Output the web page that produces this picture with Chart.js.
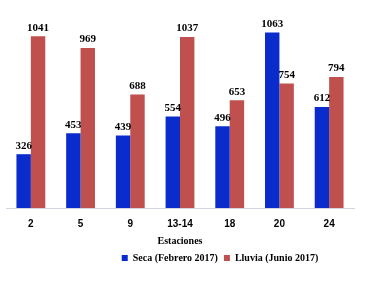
<!DOCTYPE html>
<html>
<head>
<meta charset="utf-8">
<script src="https://cdn.jsdelivr.net/npm/chart.js@4/dist/chart.umd.min.js"></script>
<style>
  html, body { margin: 0; padding: 0; background: #fff; }
  #wrap { width: 365px; height: 286px; }
</style>
</head>
<body>
<div id="wrap"><canvas id="chart"></canvas></div>
<script>
// estaciones y valores
const estaciones = ['2', '5', '9', '13-14', '18', '20', '24'];
const seca = [326, 453, 439, 554, 496, 1063, 612];
const lluvia = [1041, 969, 688, 1037, 653, 754, 794];

// etiquetas encima de cada barra
const etiquetasBarras = {
    id: 'etiquetasBarras',
    afterDatasetsDraw(chart) {
        const ctx = chart.ctx;
        ctx.save();
        ctx.font = 'bold 11px "Liberation Serif"';
        ctx.fillStyle = '#000';
        ctx.textAlign = 'center';
        ctx.textBaseline = 'bottom';
        chart.data.datasets.forEach((ds, i) => {
            chart.getDatasetMeta(i).data.forEach((bar, j) => {
                ctx.fillText(ds.data[j], bar.x, bar.y - 3);
            });
        });
        ctx.restore();
    }
};

// la leyenda del original esta algo desplazada a la derecha
const moverLeyenda = {
    id: 'moverLeyenda',
    afterLayout(chart) {
        chart.legend.left += 40;
        chart.legend.right += 40;
    }
};

new Chart(document.getElementById('chart').getContext('2d'), {
    type: 'bar',
    data: {
        labels: estaciones,
        datasets: [
            { label: 'Seca (Febrero 2017)', data: seca, backgroundColor: '#0a2ccc' },
            { label: 'Lluvia (Junio 2017)', data: lluvia, backgroundColor: '#c0504d' }
        ]
    },
    options: {
        responsive: true,
        maintainAspectRatio: false,
        animation: false,
        datasets: { bar: { categoryPercentage: 0.58, barPercentage: 1 } },
        layout: { padding: { left: 6, right: 11, top: 10, bottom: 13 } },
        plugins: {
            legend: {
                position: 'bottom',
                labels: {
                    boxWidth: 6,
                    boxHeight: 6,
                    padding: 6,
                    color: '#000',
                    font: { family: '"Liberation Serif"', size: 10, weight: 'bold' }
                }
            },
            tooltip: { enabled: false }
        },
        scales: {
            x: {
                grid: { display: false, drawTicks: false },
                border: { display: true, color: '#d0d4dc', width: 1 },
                ticks: {
                    color: '#000',
                    padding: 10,
                    font: { family: '"Liberation Sans"', size: 10, weight: 'bold' }
                },
                title: {
                    display: true,
                    text: 'Estaciones',
                    color: '#000',
                    padding: { top: -5, bottom: 0 },
                    font: { family: '"Liberation Serif"', size: 10, weight: 'bold' }
                }
            },
            y: { display: false, min: 0, max: 1200 }
        }
    },
    plugins: [etiquetasBarras, moverLeyenda]
});
</script>
</body>
</html>
